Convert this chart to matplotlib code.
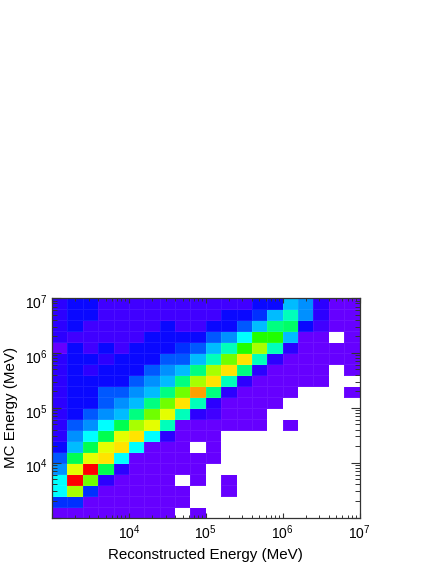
#!/usr/bin/env python3
"""MC energy vs reconstructed energy, 2D histogram"""

import numpy as np
import matplotlib
matplotlib.use('Agg')
import matplotlib.pyplot as plt
from matplotlib.colors import LinearSegmentedColormap
from matplotlib.ticker import LogLocator, NullFormatter, FixedLocator, FuncFormatter
from matplotlib.transforms import ScaledTranslation

plt.rcParams['font.family'] = ['Liberation Sans', 'DejaVu Sans']
plt.rcParams['mathtext.default'] = 'regular'

n = np.nan

# bin edges, 5 bins per decade
log_edge_min = 3
log_edge_max = 7
n_bins = 20

# colour level per cell, top row first
levels = [
    [2, 3, 3, 1, 1, 1, 1, 1, 1, 1, 1, 1, 1, 3, 3, 7, 6, 2, 0, 0],
    [2, 3, 3, 1, 1, 1, 1, 1, 1, 1, 1, 3, 3, 4, 7, 8.5, 6, 2, 0, 0],
    [2, 3, 1, 1, 1, 1, 1, 3, 1, 1, 3, 3, 5, 7, 9, 9.5, 3, 1, 0, 0],
    [2, 1, 1, 1, 1, 1, 3, 3, 3, 3, 5, 6, 8, 11, 11, 7, 0, 0, n, 0],
    [0, 3, 1, 3, 1, 3, 3, 3, 4, 5, 7, 8.5, 11, 13, 8.5, 2, 0, 0, 0, 0],
    [2, 3, 3, 2, 3, 3, 3, 5, 5, 7, 8.5, 12, 15, 8.5, 2, 0, 0, 0, 0, 0],
    [2, 3, 2, 3, 3, 3, 5, 6, 7, 9, 13, 15, 9, 2, 0, 0, 0, 0, n, 0],
    [2, 3, 3, 3, 3, 5, 6, 7, 9, 13, 15, 8.5, 2, 0, 0, 0, 0, 0, n, n],
    [2, 3, 3, 5, 5, 6, 7, 9, 12, 16, 9, 2, 0, 0, 0, 0, n, n, n, 0],
    [2, 3, 3, 5, 6, 7, 9, 12, 15, 8.5, 2, 0, 0, 0, 0, n, n, n, n, n],
    [2, 3, 5, 6, 7, 9, 12, 14, 8.5, 2, 1, 0, 0, 0, n, n, n, n, n, n],
    [2, 5, 6, 8, 10, 13, 14, 8.5, 0, 0, 0, 0, 0, 0, n, 0, n, n, n, n],
    [2, 6, 8, 10, 14, 15, 8, 2, 0, 0, 0, n, n, n, n, n, n, n, n, n],
    [3, 7, 10, 14, 15, 8, 0, 0, 0, n, 0, n, n, n, n, n, n, n, n, n],
    [5, 10, 14, 15, 8, 0, 0, 0, 0, 0, 0, n, n, n, n, n, n, n, n, n],
    [6, 14, 17, 10, 2, 0, 0, 0, 0, 0, n, n, n, n, n, n, n, n, n, n],
    [8, 17, 12, 2, 0, 0, 0, 0, n, 0, n, 0, n, n, n, n, n, n, n, n],
    [8, 13, 4, 0, 0, 0, 0, 0, 0, n, n, 0, n, n, n, n, n, n, n, n],
    [4, 4, 0, 0, 0, 0, 0, 0, 0, n, n, n, n, n, n, n, n, n, n, n],
    [0, 0, 0, 0, 0, 0, 0, 0, n, 0, n, n, n, n, n, n, n, n, n, n],
]

palette = ['#6600ff', '#4000ff', '#2c00ff', '#0a08ff', '#0030ff', '#0058ff',
           '#0090ff', '#00bcff', '#00ffff', '#00ff80', '#00ff50', '#20ff00',
           '#70ff00', '#a8ff00', '#e4ff00', '#ffe400', '#ffa000', '#ff0000']

major_exponents = [3, 4, 5, 6, 7]

cmap = LinearSegmentedColormap.from_list('root_rainbow', palette, N=256)
cmap.set_bad('white')

edges = np.logspace(log_edge_min, log_edge_max, n_bins + 1)
z = np.array(levels, dtype=float)[::-1]

fig = plt.figure(figsize=(4.36, 5.64), dpi=100)
ax = fig.add_axes([52 / 436, 1 - 517.5 / 564, 307.5 / 436, 219.5 / 564])

# faint light seams between the cells, as in the original
ax.pcolormesh(edges, edges, np.ma.masked_invalid(z), cmap=cmap,
              vmin=0, vmax=len(palette) - 1, edgecolors=(1, 1, 1, 0.07),
              linewidth=0.5)
ax.set_xscale('log')
ax.set_yscale('log')
ax.set_xlim(10.0 ** log_edge_min, 10.0 ** log_edge_max)
ax.set_ylim(10.0 ** log_edge_min, 10.0 ** log_edge_max)


def decade_label(v, pos):
    # 10^3 sits in the corner and has no label
    if v < 10 ** 3.5:
        return ''
    return f'$10^{{{int(round(np.log10(v)))}}}$'


major_ticks = [10.0 ** e for e in major_exponents]
for axis in (ax.xaxis, ax.yaxis):
    axis.set_major_locator(FixedLocator(major_ticks))
    axis.set_major_formatter(FuncFormatter(decade_label))
    axis.set_minor_locator(LogLocator(base=10, subs=np.arange(2, 10), numticks=12))
    axis.set_minor_formatter(NullFormatter())

ax.tick_params(axis='x', which='major', direction='in', top=True, length=3.8,
               width=0.8, labelsize=10, pad=4.5, color='#333333')
ax.tick_params(axis='x', which='minor', direction='in', top=True, length=2,
               width=0.7, color='#333333')
ax.tick_params(axis='y', which='major', direction='in', right=True, length=6.5,
               width=0.8, labelsize=10, pad=3.5, color='#333333')
ax.tick_params(axis='y', which='minor', direction='in', right=True, length=3.4,
               width=0.7, color='#333333')

# y tick labels sit a little below their ticks
shift = ScaledTranslation(0, -3 / 100, fig.dpi_scale_trans)
for lab in ax.get_yticklabels():
    lab.set_transform(lab.get_transform() + shift)

for side in ax.spines.values():
    side.set_linewidth(0.9)
    side.set_color('#333333')

ax.set_xlabel('Reconstructed Energy (MeV)', fontsize=10.9, labelpad=4)
ax.set_ylabel('MC Energy (MeV)', fontsize=10.9, labelpad=4.5, y=0.5)

plt.savefig('out.png', dpi=100)
plt.close()
